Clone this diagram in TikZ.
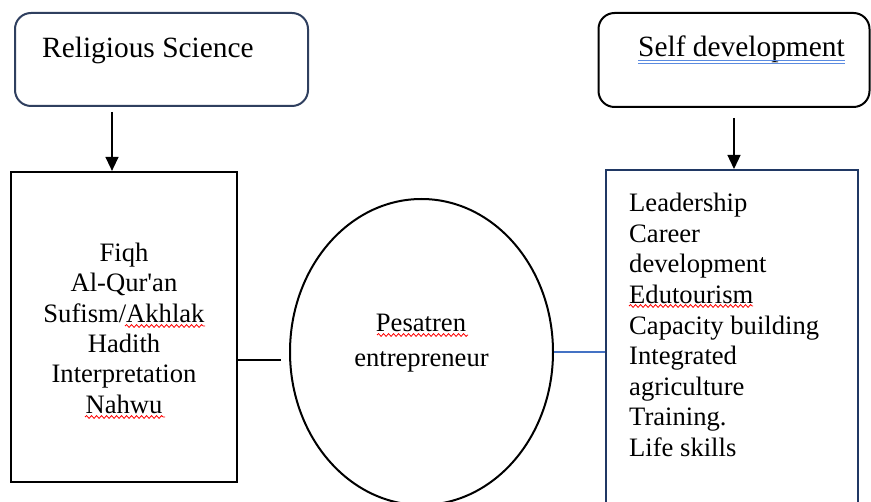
\documentclass[tikz,border=0pt]{standalone}
\usepackage{fontspec}
\newfontfamily\lib{Liberation Serif}
\usetikzlibrary{arrows.meta,decorations.pathmorphing,shapes.geometric}
\definecolor{navyline}{HTML}{2F3F5F}
\definecolor{navybox}{HTML}{203864}
\definecolor{linkblue}{HTML}{4472C4}
\definecolor{ulblue}{HTML}{5B8BE0}
\newcommand\bodyfont{\lib\fontsize{26.6}{30.6}\selectfont}
\newcommand\headfont{\lib\fontsize{29.4}{34}\selectfont}
\begin{document}
\begin{tikzpicture}[x=1pt,y=-1pt,
  headbox/.style={draw, rounded corners=16pt, line width=2pt, inner sep=0pt},
  listbox/.style={draw, line width=2.2pt, inner sep=0pt},
  txt/.style={inner sep=0pt, font=\bodyfont, text=black},
  htxt/.style={inner sep=0pt, font=\headfont, text=black},
  arr/.style={line width=1.3pt, -{Triangle[width=13pt,length=14pt]}},
  conn/.style={line width=1.4pt},
  spell/.style={red, line width=0.8pt, decorate, decoration={snake, segment length=5pt, amplitude=1.4pt}},
  ul/.style={ulblue, line width=0.9pt}
]
\useasboundingbox (0,0) rectangle (871,502);
\fill[white] (0,0) rectangle (871,502);

% header boxes
\node[headbox, draw=navyline, minimum width=293pt, minimum height=93pt] (rs) at (161.5,59.5) {};
\node[headbox, draw=black, minimum width=271pt, minimum height=94pt] (sd) at (734,60) {};
\node[htxt, anchor=base west] (rst) at (42,58) {Religious Science};
\node[htxt, anchor=base west] (sdt) at (638,57) {Self development};
\draw[ul] (sdt.base west) ++(0,3) -- ++(207,0);
\draw[ul] (sdt.base west) ++(0,6) -- ++(207,0);

% list boxes
\node[listbox, draw=black, minimum width=226pt, minimum height=310pt] (lb) at (124,327) {};
\node[listbox, draw=navybox, line width=2pt, minimum width=252pt, minimum height=350pt] (rb) at (732,345) {};

% ellipse
\node[draw, ellipse, line width=2pt, inner sep=0pt, minimum width=263pt, minimum height=306pt] (el) at (421.5,352) {};
\node[txt, anchor=base] (p1) at (421,331.7) {Pesatren};
\node[txt, anchor=base] (p2) at (421.5,366.7) {entrepreneur};

% left list text
\foreach \t [count=\i] in {Fiqh, Al-Qur'an, Sufism/Akhlak, Hadith, Interpretation, Nahwu}
  \node[txt, anchor=base] (L\i) at (124,{261.7+30.3*(\i-1)}) {\t};

% right list text
\foreach \t [count=\i] in {Leadership, Career, development, Edutourism, Capacity building, Integrated, agriculture, Training., Life skills}
  \node[txt, anchor=base west] (R\i) at (629,{211.7+30.6*(\i-1)}) {\t};

% spell-check underlines
\draw[spell] (125,326) -- (205,326);
\draw[spell] (85,417) -- (165,417);
\draw[spell] (377,335) -- (468,335);
\draw[spell] (629,306) -- (753,306);

% arrows
\coordinate (ax1) at (112,0);
\coordinate (ax2) at (734,0);
\draw[arr, shorten <=5pt] (rs.south -| ax1) -- (lb.north -| ax1);
\draw[arr, shorten <=10pt] (sd.south -| ax2) -- (rb.north -| ax2);

% connectors
\coordinate (cy1) at (0,360);
\draw[conn, shorten >=8pt] (cy1 -| lb.east) -- (cy1 -| el.west);
\draw[conn, linkblue] (el.east) -- (el.east -| rb.west);
\end{tikzpicture}
\end{document}
